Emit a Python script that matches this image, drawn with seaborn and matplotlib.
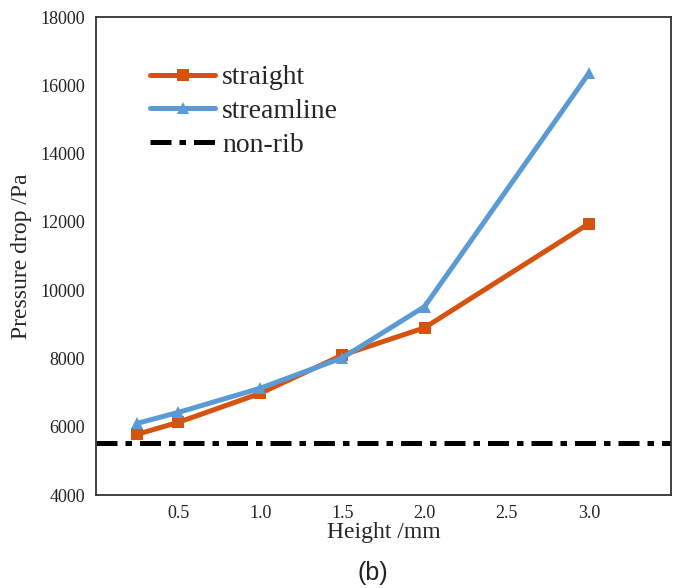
import numpy as np
import pandas as pd
import matplotlib
matplotlib.use("Agg")
import matplotlib.pyplot as plt
import seaborn as sns

# Rib height (mm) and pressure drop (Pa)
height = [0.25, 0.5, 1.0, 1.5, 2.0, 3.0]
straight = [5780, 6130, 6980, 8100, 8900, 11950]
streamline = [6100, 6420, 7130, 8020, 9520, 16350]
non_rib = 5530

series_names = ["straight", "streamline"]
series_colors = {"straight": "#D5520F", "streamline": "#5B9BD5"}
series_markers = {"straight": "s", "streamline": "^"}

df = pd.DataFrame({
    "Height": height * 2,
    "Pressure": straight + streamline,
    "Rib": ["straight"] * len(height) + ["streamline"] * len(height),
})

sns.set_theme(style="white")
plt.rcParams["font.family"] = ["Liberation Serif", "DejaVu Serif"]
plt.rcParams["mathtext.fontset"] = "stix"

fig = plt.figure(figsize=(6.76, 5.88), dpi=100)
ax = fig.add_axes([0.142, 0.158, 0.8505, 0.813])

sns.lineplot(data=df, x="Height", y="Pressure", hue="Rib", style="Rib",
             hue_order=series_names, style_order=series_names,
             palette=series_colors, markers=series_markers, dashes=False,
             linewidth=3.6, markersize=8, markeredgewidth=0, ax=ax)

ax.axhline(non_rib, color="black", linewidth=3.6,
           dashes=(4.2, 1.6, 1.3, 1.6), label="non-rib")

ax.set_xlim(0, 3.5)
ax.set_ylim(4000, 18000)
ax.set_xticks([0.5, 1.0, 1.5, 2.0, 2.5, 3.0])
ax.set_xticklabels(["0.5", "1.0", "1.5", "2.0", "2.5", "3.0"])
ax.set_yticks(np.arange(4000, 18001, 2000))
ax.tick_params(axis="both", direction="in", length=6, width=1.2,
               labelsize=13, colors="#222222", pad=8)
ax.tick_params(axis="x", pad=7)

for s in ax.spines.values():
    s.set_visible(True)
    s.set_color("#333333")
    s.set_linewidth(1.3)

ax.set_xlabel("Height /mm", fontsize=17, labelpad=0)
ax.set_ylabel("Pressure drop /Pa", fontsize=17, labelpad=6)

handles, labels = ax.get_legend_handles_labels()
ax.legend(handles, labels, loc="upper left",
          bbox_to_anchor=(0.094, 0.90), frameon=False, fontsize=20,
          handlelength=2.35, handletextpad=0.25, labelspacing=0.3,
          borderpad=0, borderaxespad=0)

fig.text(0.552, 0.005, "(b)", fontsize=18, family="Liberation Sans",
         ha="center", va="bottom", color="#222222")

fig.savefig("out.png", dpi=100)
